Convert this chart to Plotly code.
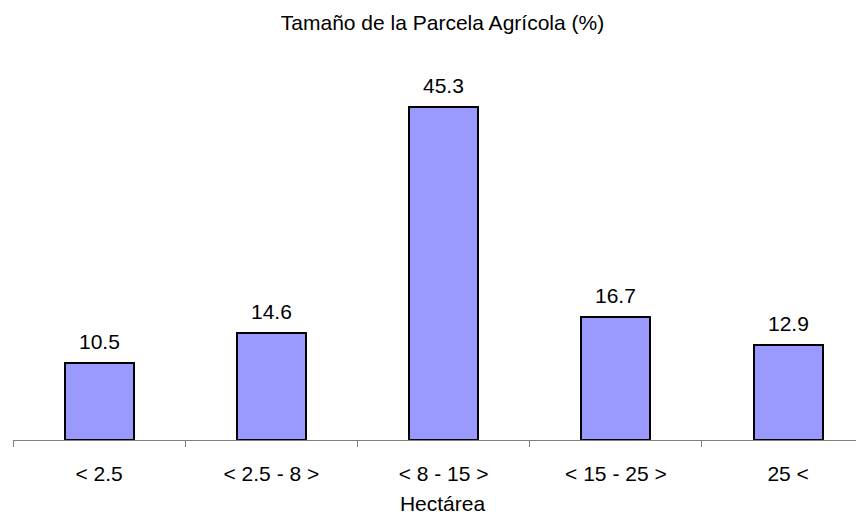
import plotly.graph_objects as go

categories = ["< 2.5", "< 2.5 - 8 >", "< 8 - 15 >", "< 15 - 25 >", "25 <"]
values = [10.5, 14.6, 45.3, 16.7, 12.9]
title_text = "Tamaño de la Parcela Agrícola (%)"
x_title = "Hectárea"

FONT = "Liberation Sans, Arial, sans-serif"
FS = 21

fig = go.Figure()
fig.add_trace(go.Bar(
    x=categories, y=values,
    width=0.4,
    marker=dict(color="#9999FF", line=dict(color="black", width=2)),
    hoverinfo="skip",
))

for c, v in zip(categories, values):
    fig.add_annotation(x=c, y=v, text=f"{v:.1f}", showarrow=False,
                       yanchor="bottom", yshift=8,
                       font=dict(family=FONT, size=FS, color="black"))

fig.update_layout(
    width=864, height=515,
    margin=dict(l=5, r=0, t=52, b=83),
    plot_bgcolor="white", paper_bgcolor="white",
    showlegend=False,
    title=dict(text=title_text, xref="paper", x=0.5, xanchor="center",
               y=1 - 15 / 515, yanchor="middle",
               font=dict(family=FONT, size=FS, color="black")),
    font=dict(family=FONT, size=FS, color="black"),
    bargap=0,
)
fig.update_xaxes(
    type="category", range=[-0.5, 4.487],
    showline=True, linecolor="#808080", linewidth=1,
    ticks="outside", tickson="boundaries", ticklen=6, tickcolor="#808080",
    ticklabelstandoff=15,
    title=dict(text=x_title, standoff=12, font=dict(family=FONT, size=FS)),
    showgrid=False, zeroline=False,
)
fig.update_yaxes(range=[0, 51.7], visible=False, showgrid=False)

fig.write_html("out.html")
